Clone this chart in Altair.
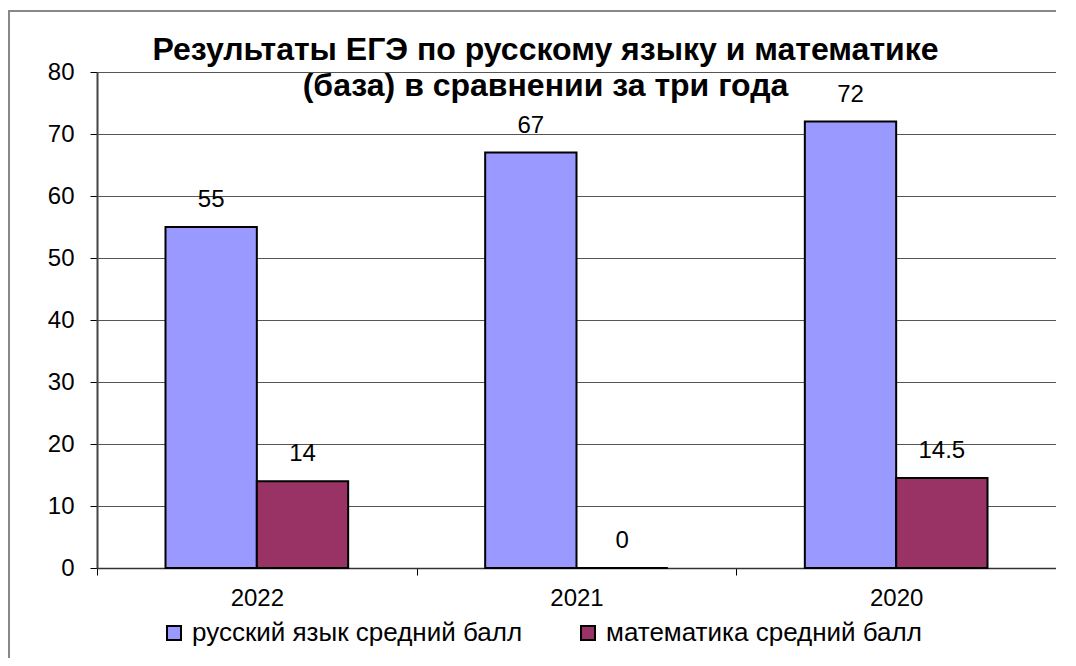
import altair as alt
import pandas as pd

years = ["2022", "2021", "2020"]
series = ["русский язык средний балл", "математика средний балл"]
russian = [55, 67, 72]
math = [14, 0, 14.5]
colors = ["#9999FF", "#993366"]

rows = []
for i, y in enumerate(years):
    rows.append({"year": y, "series": series[0], "value": russian[i], "label": f"{russian[i]:g}"})
    rows.append({"year": y, "series": series[1], "value": math[i], "label": f"{math[i]:g}"})
df = pd.DataFrame(rows)

FONT = "Liberation Sans"
FS = 24

x = alt.X("year:N", sort=years, title=None,
          scale=alt.Scale(paddingInner=0, paddingOuter=0),
          axis=alt.Axis(labelAngle=0, labelFontSize=FS, labelFont=FONT, labelColor="black",
                        tickBand="extent", tickSize=7, tickColor="black", domainColor="#333333",
                        labelPadding=11, grid=False, domainWidth=1.5))
xo = alt.XOffset("series:N", sort=series, scale=alt.Scale(paddingOuter=0.75, paddingInner=0))
y = alt.Y("value:Q", title=None,
          scale=alt.Scale(domain=[0, 80], nice=False),
          axis=alt.Axis(values=list(range(0, 90, 10)), labelFontSize=FS, labelFont=FONT,
                        labelColor="black", tickSize=7, tickColor="black", domainColor="#444444",
                        domainWidth=2, labelPadding=16, gridColor="#555555", gridWidth=1))
color = alt.Color("series:N", sort=series, title=None,
                  scale=alt.Scale(domain=series, range=colors),
                  legend=alt.Legend(orient="none", legendX=64, legendY=548, direction="horizontal",
                                    symbolType="square", symbolSize=196, symbolStrokeColor="black",
                                    symbolStrokeWidth=2, symbolOpacity=1, labelFontSize=26,
                                    labelFont=FONT, labelColor="black", labelOffset=5,
                                    columnPadding=52, labelLimit=600))

base = alt.Chart(df)
bars = base.mark_bar(stroke="black", strokeWidth=2).encode(x=x, xOffset=xo, y=y, color=color)
labels = base.mark_text(fontSize=FS, font=FONT, color="black", baseline="middle", dy=-27).encode(
    x=alt.X("year:N", sort=years), xOffset=xo, y="value:Q", text="label:N")

frame = alt.Chart(pd.DataFrame({"a": [0]})).mark_rect(fill=None, stroke="#888888", strokeWidth=2, clip=False).encode(
    x=alt.value(-88), x2=alt.value(1100), y=alt.value(-61), y2=alt.value(700))

chart = alt.layer(frame, bars, labels).properties(
    width=959, height=496,
    autosize=alt.AutoSizeParams(type="none"),
    padding={"left": 89, "top": 64, "right": 0, "bottom": 90},
    title=alt.TitleParams(
        text=["Результаты ЕГЭ по русскому языку и математике", "(база) в сравнении за три года"],
        fontSize=32, font=FONT, fontWeight="bold", color="black", anchor="middle",
        dx=-31, offset=-93, lineHeight=36),
).configure_view(stroke="#888888", strokeWidth=2).configure(background="white")

chart.save("out.html", embed_options={"renderer": "svg", "actions": False})
